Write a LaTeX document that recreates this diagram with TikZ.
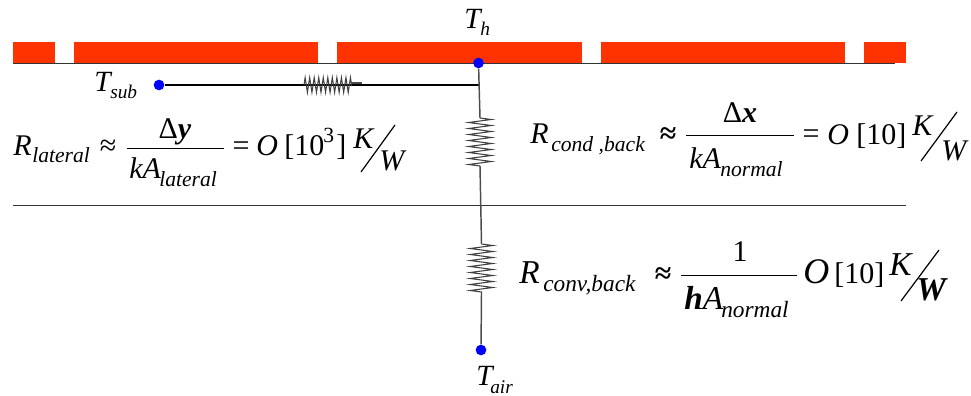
\documentclass[tikz,border=0pt]{standalone}
\usepackage{fontspec}
\setmainfont{Liberation Serif}
\usetikzlibrary{decorations.pathmorphing}
\newcommand{\bigf}{\fontsize{22.5pt}{24pt}\selectfont}
\newcommand{\largef}{\fontsize{25pt}{27pt}\selectfont}
\newcommand{\subf}{\fontsize{16.2pt}{18pt}\selectfont}
\newcommand{\subg}{\fontsize{17.5pt}{19pt}\selectfont}
\newcommand{\labf}{\fontsize{22pt}{24pt}\selectfont}
\newcommand{\labs}{\fontsize{14.5pt}{16pt}\selectfont}
\definecolor{platered}{RGB}{255,51,0}
\tikzset{
  x=0.75pt,y=-0.75pt,
  eqt/.style={inner sep=0pt,anchor=base west,font=\bigf\itshape},
  eqb/.style={inner sep=0pt,anchor=base west,font=\largef\itshape},
  equp/.style={inner sep=0pt,anchor=base west,font=\bigf},
  eqs/.style={inner sep=0pt,anchor=base west,font=\subf\itshape},
  eqg/.style={inner sep=0pt,anchor=base west,font=\subg\itshape},
  eqm/.style={inner sep=0pt,anchor=base,font=\bigf},
  lab/.style={inner sep=0pt,anchor=base west,font=\labf\itshape},
  labsub/.style={inner sep=0pt,anchor=base west,font=\labs\itshape},
  dot/.style={circle,fill=blue,draw=none,minimum size=8pt,inner sep=0pt},
  plate/.style={fill=platered,draw=none},
  wire/.style={draw=black!70,line width=1.1pt},
  heavy/.style={draw=black,line width=1.9pt},
  fracl/.style={draw=black,line width=0.7pt},
  slashl/.style={draw=black,line width=0.9pt},
  rule/.style={draw=black!80,line width=0.7pt},
  resv/.style={draw=black!75,line width=0.8pt,decorate,decoration={zigzag,segment length=4.5pt,amplitude=8.5pt}},
  resh/.style={draw=black!75,line width=0.8pt,decorate,decoration={zigzag,segment length=3.4pt,amplitude=5.5pt}},
}
\begin{document}
\begin{tikzpicture}
\useasboundingbox (0,0) rectangle (971,396);
% plate
\foreach \a/\b in {13/55,74/318,337/582,601/845,864/906}
  \fill[plate] (\a,42) rectangle (\b,63);
\coordinate (pl) at (13,63.5); \coordinate (pr) at (895,63.5);
\draw[rule] (pl) -- (pr);
\coordinate (ml) at (13,205); \coordinate (mr) at (906,205);
\draw[rule] (ml) -- (mr);
% nodes
\node[dot] (tsub) at (159,85) {};
\node[dot] (th) at (478.5,63) {};
\node[dot] (tair) at (481,350) {};
\coordinate (j) at (479.5,85);
\coordinate (hl) at (304,85); \coordinate (hr) at (352,85); \coordinate (hs) at (362,83);
\coordinate (v1a) at (480,118); \coordinate (v1b) at (480,166);
\coordinate (v2a) at (481.5,244); \coordinate (v2b) at (481.5,293);
% wires
\draw[heavy] (tsub) -- (j);
\draw[wire] (th) -- (v1a);
\draw[resv] (v1a) -- (v1b);
\draw[wire] (v1b) -- (v2a);
\draw[resv] (v2a) -- (v2b);
\draw[wire] (v2b) -- (tair);
\draw[resh] (hl) -- (hr);
\draw[wire] (hr |- hs) -- (hs);
% temperature labels
\node[lab] (ThT) at (464,28) {T};
\node[labsub] (Ths) at (480,35) {h};
\node[lab] (TsT) at (94,91) {T};
\node[labsub] (Tss) at (110,98) {sub};
\node[lab] (TaT) at (476,385) {T};
\node[labsub] (Tas) at (490,393) {air};
% equation 1
\node[eqt] (a1) at (13,155) {R};
\node[eqs] (a2) at (32,162) {lateral};
\node[eqm] (a3) at (108,155) {≈};
\draw[fracl] (127,148) coordinate (a4l) -- (224,148) coordinate (a4r);
\node[eqm] (a5) at (175,138) {Δ\textit{\textbf{y}}};
\node[eqt] (a6) at (129,178) {kA};
\node[eqs] (a7) at (159,186) {lateral};
\node[eqm] (a8) at (241,155) {=};
\node[eqt] (a9) at (256,155) {O};
\node[equp] (a10) at (284,155) {[10};
\node[equp,font=\subf] (a11) at (323,142) {3};
\node[equp] (a12) at (336,155) {]};
\node[eqt] (a13) at (353,148) {K};
\draw[slashl] (361,172) coordinate (a14b) -- (395,125) coordinate (a14t);
\node[eqt] (a15) at (379,170) {W};
% equation 2
\node[eqt] (b1) at (530,143) {R};
\node[eqs] (b2) at (551,151) {cond ,back};
\node[eqm,font=\bigf\bfseries] (b3) at (668,143) {≈};
\draw[fracl] (686,135.5) coordinate (b4l) -- (794,135.5) coordinate (b4r);
\node[eqm] (b5) at (740,122) {Δ\textit{\textbf{x}}};
\node[eqt] (b6) at (689,168) {kA};
\node[eqs] (b7) at (720,176) {normal};
\node[eqm] (b8) at (811,143) {=};
\node[eqt] (b9) at (827,144) {O};
\node[equp] (b10) at (856,144) {[10]};
\node[eqt] (b13) at (912,135) {K};
\draw[slashl] (921,161) coordinate (b14b) -- (957,112) coordinate (b14t);
\node[eqt] (b15) at (941,160) {W};
% equation 3
\node[eqb] (c1) at (519,283) {R};
\node[eqg] (c2) at (543,291) {conv,back};
\node[eqm,font=\bigf\bfseries] (c3) at (663,283) {≈};
\draw[fracl] (681,275) coordinate (c4l) -- (797,275) coordinate (c4r);
\node[eqm] (c5) at (740,261) {1};
\node[eqb] (c6) at (684,309) {\textbf{h}A};
\node[eqg] (c7) at (721,317) {normal};
\node[eqb,font=\fontsize{27pt}{29pt}\selectfont\itshape] (c9) at (803,283) {O};
\node[equp] (c10) at (834,283) {[10]};
\node[eqb] (c13) at (889,275) {K};
\draw[slashl] (901,301) coordinate (c14b) -- (939,250) coordinate (c14t);
\node[eqb,font=\largef\itshape\bfseries] (c15) at (916,300) {W};
\end{tikzpicture}
\end{document}
